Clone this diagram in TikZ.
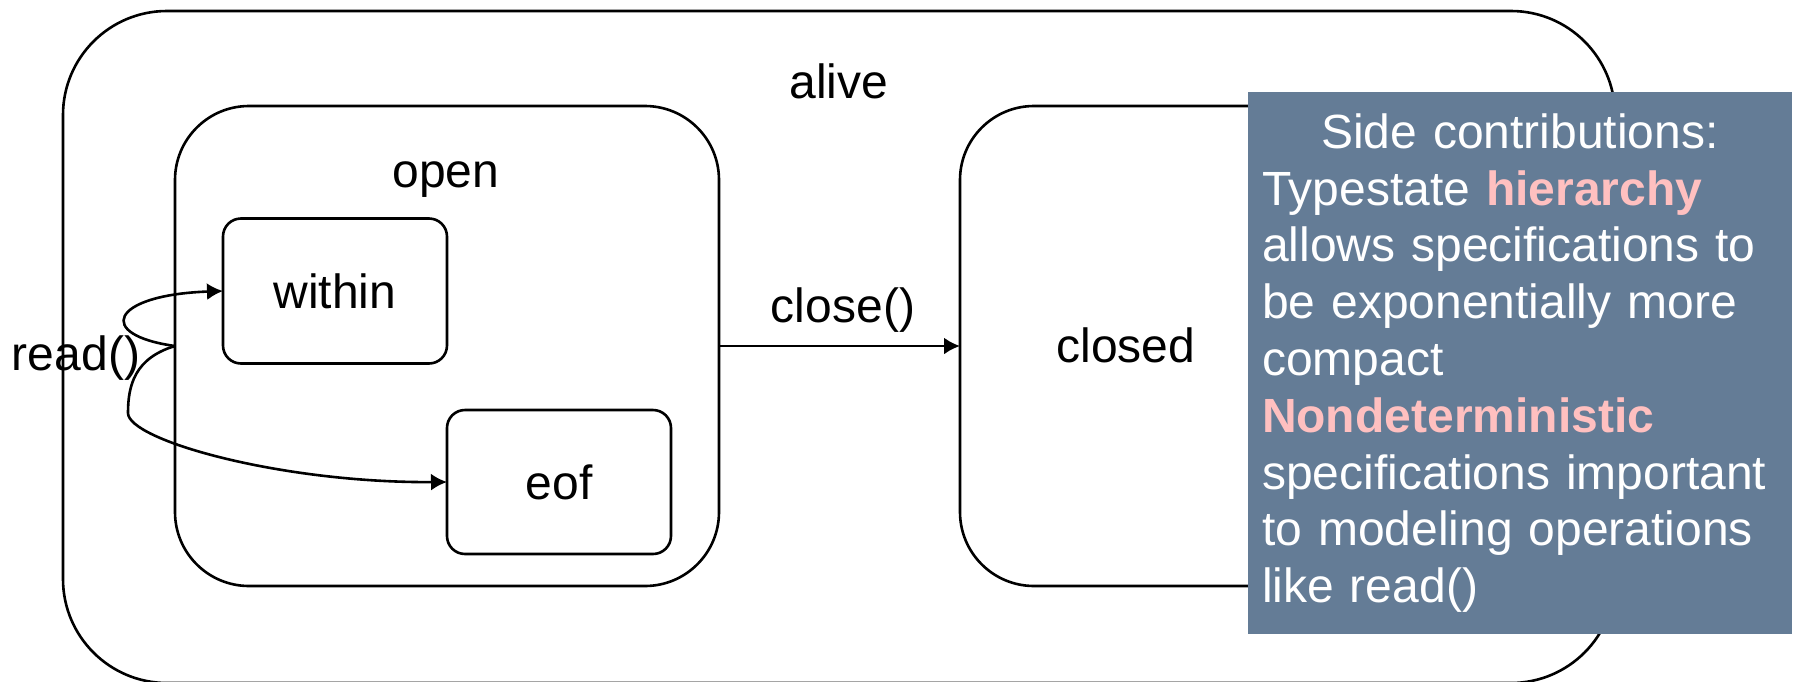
\documentclass[tikz,border=0pt]{standalone}
\usepackage{fontspec}
\setmainfont{Liberation Sans}
\usetikzlibrary{arrows.meta}

\definecolor{notebg}{HTML}{647C96}
\definecolor{hilite}{HTML}{FFC0C0}

\begin{document}
\begin{tikzpicture}[x=0.5pt,y=-0.5pt,line width=1.3pt,
    >={Latex[length=8pt,width=8.5pt]},
    every node/.style={font=\fontsize{24}{28.4}\selectfont},
    box/.style={draw,inner sep=0pt,outer sep=0pt,rounded corners=#1}]

\useasboundingbox (0,0) rectangle (1796,681);

% nested states
\node (alive) at (839,347) [box=52pt,minimum width=776pt,minimum height=336pt] {};
\node (open) at (447,346) [box=37pt,minimum width=272pt,minimum height=240pt] {};
\node (closed) at (1232,346) [box=37pt,minimum width=272pt,minimum height=240pt] {};
\node (within) at (335,291) [box=9pt,minimum width=112pt,minimum height=72.5pt] {within};
\node (eof) at (559,482) [box=9pt,minimum width=112pt,minimum height=72pt] {eof};

\node (alivelbl) at (839,98) [anchor=base] {alive};
\node (openlbl) at (446,187) [anchor=base] {open};
\node (closedlbl) at (1126,345) {closed};
\node (readlbl) at (76,370) [anchor=base] {read()};
\node (closelbl) at (843,322) [anchor=base] {close()};

% transitions
\draw [->] (open.east) -- (closed.west);
\draw [->] (open.west) .. controls (95,335) and (110,295) .. (within.west);
\draw [->] (open.west) .. controls (135,358) and (128,385) .. (128,413)
    .. controls (128,440) and (280,483) .. (eof.west);

% side note
\node (note) at (1520,363) [fill=notebg,text=white,inner sep=0pt,
    minimum width=272pt,minimum height=271pt,text width=258pt,align=left]
    {\makebox[258pt]{Side contributions:}\\
     Typestate \textbf{\textcolor{hilite}{hierarchy}}\\
     allows specifications to\\
     be exponentially more\\
     compact\\
     \textbf{\textcolor{hilite}{Nondeterministic}}\\
     specifications important\\
     to modeling operations\\
     like read()};

\end{tikzpicture}
\end{document}
